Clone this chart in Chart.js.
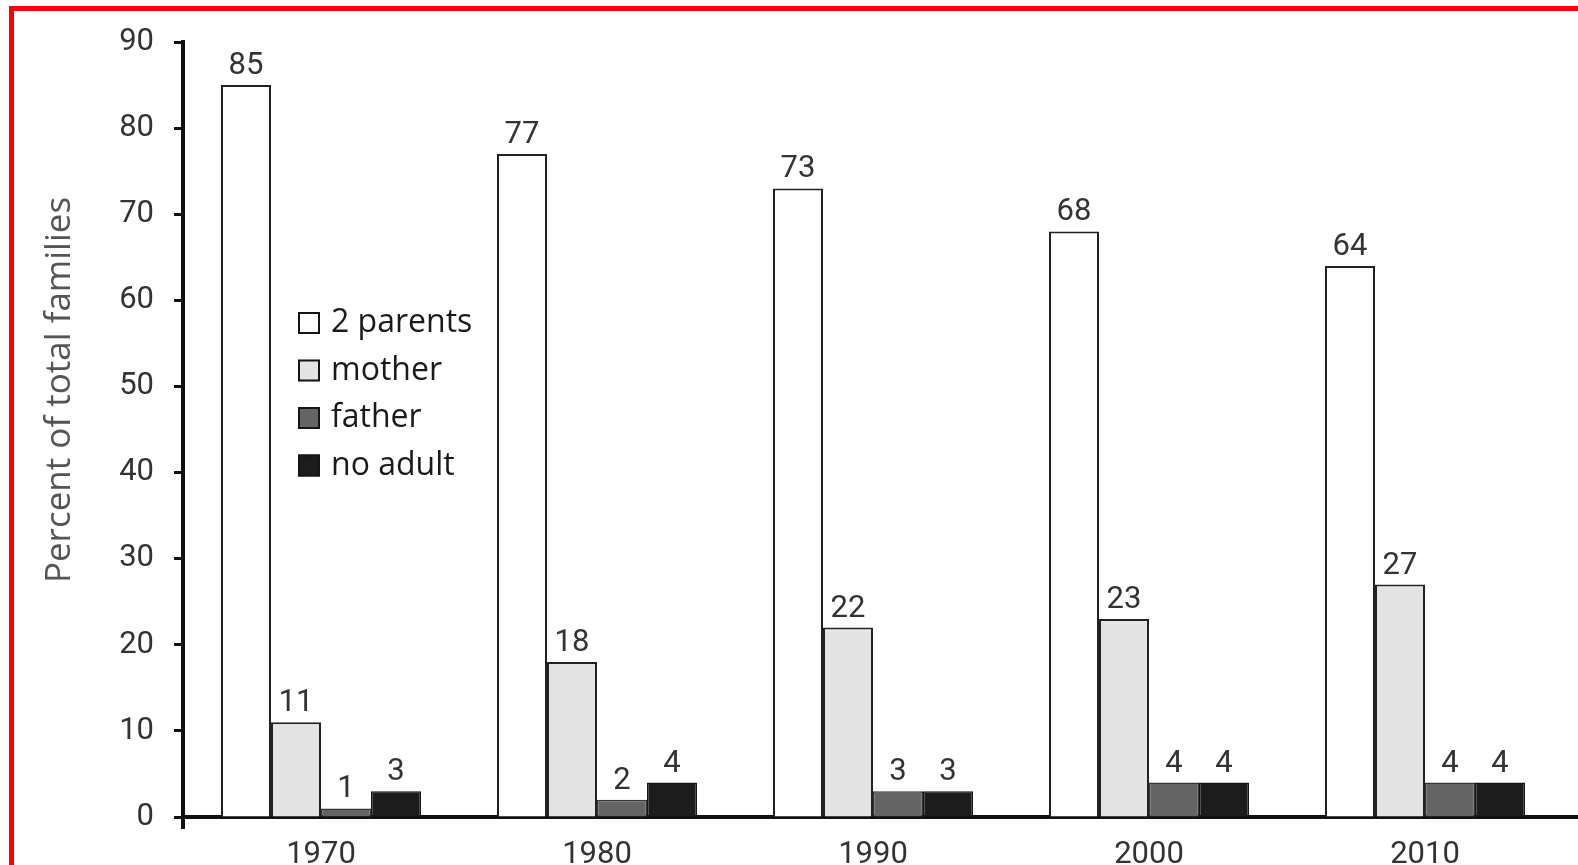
<!DOCTYPE html>
<html>
<head>
<meta charset="utf-8">
<title>Family structure, 1970–2010</title>
<script src="https://cdn.jsdelivr.net/npm/chart.js@4.4.1/dist/chart.umd.min.js"></script>
<style>
  html, body { margin: 0; padding: 0; background: #ffffff; overflow: hidden; }
  #wrap { position: relative; width: 1578px; height: 865px; overflow: hidden; background: #ffffff; }
  #wrap canvas { position: absolute; left: 0; top: 0; }
  #frame {
    position: absolute; left: 9px; top: 6px; width: 1700px; height: 1000px;
    border-top: 5px solid #ff0000; border-left: 5px solid #ff0000; pointer-events: none;
  }
</style>
</head>
<body>
<div id="wrap">
  <canvas id="chart" width="1578" height="865"></canvas>
  <div id="frame"></div>
</div>
<script>
// Census years on the category axis
const years = ['1970', '1980', '1990', '2000', '2010'];

// Percent of total families, by who the children live with
const twoParents = [85, 77, 73, 68, 64];
const motherOnly = [11, 18, 22, 23, 27];
const fatherOnly = [1, 2, 3, 4, 4];
const noAdult = [3, 4, 3, 4, 4];

const seriesNames = ['2 parents', 'mother', 'father', 'no adult'];
const yTitle = 'Percent of total families';
const yMin = 0;
const yMax = 90;
const yStep = 10;

const TICK_FONT = 'Roboto, "DejaVu Sans", sans-serif';
const TEXT_FONT = '"Open Sans", "Noto Sans", sans-serif';
const AXIS_WIDTH = 4;

// Snap a coordinate the same way Chart.js snaps its axis borders
const snap = (pixel, width) => Math.round(pixel - width / 2) + width / 2;

// Value printed above every bar
const valueLabels = {
  id: 'valueLabels',
  afterDatasetsDraw(chart, args, opts) {
    const ctx = chart.ctx;
    ctx.save();
    ctx.font = `400 ${opts.size}px ${TICK_FONT}`;
    ctx.fillStyle = opts.color;
    ctx.textAlign = 'center';
    ctx.textBaseline = 'alphabetic';
    chart.data.datasets.forEach((ds, i) => {
      chart.getDatasetMeta(i).data.forEach((bar, j) => {
        ctx.fillText(String(ds.data[j]), bar.x, bar.y - opts.gap);
      });
    });
    ctx.restore();
  }
};

// Legend placed inside the plot, next to the first group
const insetLegend = {
  id: 'insetLegend',
  afterDraw(chart, args, opts) {
    const ctx = chart.ctx;
    ctx.save();
    ctx.font = `400 ${opts.size}px ${TEXT_FONT}`;
    ctx.textAlign = 'left';
    ctx.textBaseline = 'middle';
    chart.data.datasets.forEach((ds, i) => {
      const cy = opts.y + i * opts.step;
      const b = opts.box;
      ctx.fillStyle = ds.backgroundColor;
      ctx.fillRect(opts.x, cy - b / 2, b, b);
      ctx.lineWidth = 2;
      ctx.strokeStyle = '#151515';
      ctx.strokeRect(opts.x + 1, cy - b / 2 + 1, b - 2, b - 2);
      ctx.fillStyle = opts.color;
      ctx.fillText(ds.label, opts.x + opts.textGap, cy + opts.textShift);
    });
    ctx.restore();
  }
};

// Rotated title beside the value axis
const sideTitle = {
  id: 'sideTitle',
  afterDraw(chart, args, opts) {
    const ctx = chart.ctx;
    ctx.save();
    ctx.translate(opts.x, opts.y);
    ctx.rotate(-Math.PI / 2);
    ctx.font = `400 ${opts.size}px ${TEXT_FONT}`;
    ctx.fillStyle = opts.color;
    ctx.textAlign = 'center';
    ctx.textBaseline = 'alphabetic';
    ctx.fillText(opts.text, 0, 0);
    ctx.restore();
  }
};

// Axis lines run past the plot corner and out to the right edge
const axisExtensions = {
  id: 'axisExtensions',
  afterDraw(chart) {
    const ctx = chart.ctx;
    const area = chart.chartArea;
    const yb = snap(area.bottom, AXIS_WIDTH);
    const xl = snap(area.left, AXIS_WIDTH);
    ctx.save();
    ctx.strokeStyle = '#111111';
    ctx.lineWidth = AXIS_WIDTH;
    ctx.lineCap = 'butt';
    ctx.beginPath();
    ctx.moveTo(area.right - 2, yb);
    ctx.lineTo(chart.width, yb);
    ctx.moveTo(xl, area.bottom);
    ctx.lineTo(xl, area.bottom + 12);
    ctx.stroke();
    ctx.restore();
  }
};

const makeSet = (label, data, fill, border, width) => ({
  label, data,
  backgroundColor: fill,
  borderColor: border,
  borderWidth: width,
  borderSkipped: 'start',
  categoryPercentage: 0.7246,
  barPercentage: 1.0
});

new Chart(document.getElementById('chart'), {
  type: 'bar',
  data: {
    labels: years,
    datasets: [
      makeSet(seriesNames[0], twoParents, '#ffffff', '#222222', 2),
      makeSet(seriesNames[1], motherOnly, '#e4e4e4', '#222222', 2),
      makeSet(seriesNames[2], fatherOnly, '#646464', '#353535', 1.5),
      makeSet(seriesNames[3], noAdult, '#1c1c1c', '#141414', 1.5)
    ]
  },
  plugins: [valueLabels, insetLegend, sideTitle, axisExtensions],
  options: {
    responsive: false,
    animation: false,
    devicePixelRatio: 1,
    layout: { padding: { top: 42, right: 15, bottom: 0, left: 0 } },
    plugins: {
      legend: { display: false },
      tooltip: { enabled: false },
      valueLabels: { size: 31, color: '#333333', gap: 11 },
      insetLegend: { x: 298, y: 323, step: 47.5, box: 22, textGap: 33, textShift: 0, size: 32, color: '#1a1a1a' },
      sideTitle: { x: 70, y: 390, size: 35, color: '#555555', text: yTitle }
    },
    scales: {
      x: {
        offset: true,
        grid: { display: false, drawTicks: false },
        border: { display: true, color: '#111111', width: AXIS_WIDTH },
        ticks: {
          font: { family: TICK_FONT, size: 31 },
          color: '#333333',
          padding: 20,
          maxRotation: 0
        },
        afterFit(scale) { scale.height = 48; }
      },
      y: {
        min: yMin,
        max: yMax,
        ticks: {
          stepSize: yStep,
          font: { family: TICK_FONT, size: 31 },
          color: '#333333',
          padding: 20
        },
        grid: {
          drawOnChartArea: false,
          drawTicks: true,
          tickLength: 9,
          tickWidth: 3,
          tickColor: '#111111'
        },
        border: { display: true, color: '#111111', width: AXIS_WIDTH },
        afterFit(scale) { scale.width = 183; }
      }
    }
  }
});
</script>
</body>
</html>
